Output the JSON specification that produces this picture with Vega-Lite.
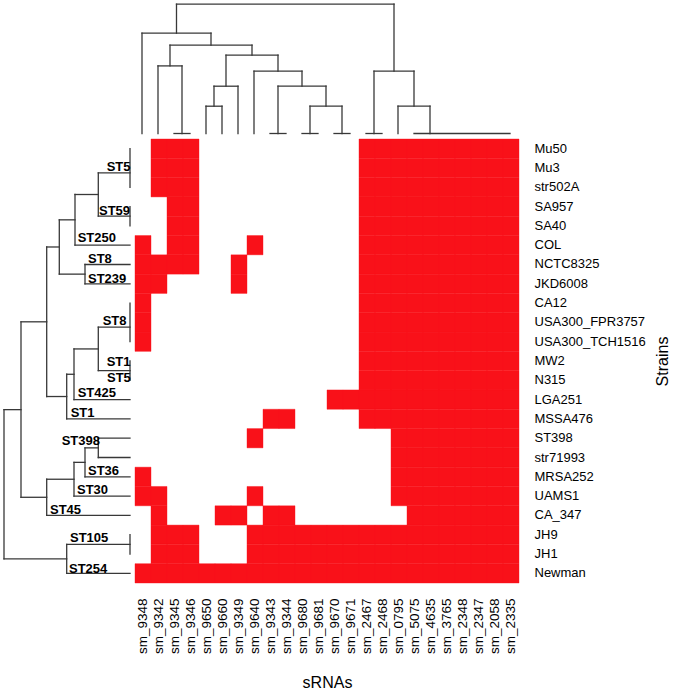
{
 "$schema": "https://vega.github.io/schema/vega-lite/v6.json",
 "padding": 0,
 "spacing": 0,
 "background": "white",
 "config": {"view": {"stroke": null}, "font": "Liberation Sans", "concat": {"spacing": 0}},
 "datasets": {
  "topTree": [
   {"x":2.156,"x2":15.75,"h":12.93,"h2":12.93},
   {"x":0,"x2":4.3125,"h":10.03,"h2":10.03},
   {"x":1.75,"x2":6.875,"h":8.83,"h2":8.83},
   {"x":1,"x2":2.5,"h":6.76,"h2":6.76},
   {"x":2,"x2":3,"h":0,"h2":0},
   {"x":5.25,"x2":8.5,"h":7.83,"h2":7.83},
   {"x":4.5,"x2":6,"h":4.73,"h2":4.73},
   {"x":4,"x2":5,"h":2.73,"h2":2.73},
   {"x":7,"x2":10,"h":6.23,"h2":6.23},
   {"x":8.5,"x2":11.5,"h":4.73,"h2":4.73},
   {"x":8,"x2":9,"h":0,"h2":0},
   {"x":10.5,"x2":12.5,"h":2.73,"h2":2.73},
   {"x":10,"x2":11,"h":0,"h2":0},
   {"x":12,"x2":13,"h":0,"h2":0},
   {"x":14.5,"x2":17,"h":6.23,"h2":6.23},
   {"x":14,"x2":15,"h":0,"h2":0},
   {"x":16,"x2":18,"h":2.73,"h2":2.73},
   {"x":17,"x2":23,"h":0,"h2":0},
   {"x":2.156,"x2":2.156,"h":10.03,"h2":12.93},
   {"x":15.75,"x2":15.75,"h":6.23,"h2":12.93},
   {"x":0,"x2":0,"h":0,"h2":10.03},
   {"x":4.3125,"x2":4.3125,"h":8.83,"h2":10.03},
   {"x":1.75,"x2":1.75,"h":6.76,"h2":8.83},
   {"x":6.875,"x2":6.875,"h":7.83,"h2":8.83},
   {"x":1,"x2":1,"h":0,"h2":6.76},
   {"x":2.5,"x2":2.5,"h":0,"h2":6.76},
   {"x":5.25,"x2":5.25,"h":4.73,"h2":7.83},
   {"x":8.5,"x2":8.5,"h":6.23,"h2":7.83},
   {"x":4.5,"x2":4.5,"h":2.73,"h2":4.73},
   {"x":6,"x2":6,"h":0,"h2":4.73},
   {"x":4,"x2":4,"h":0,"h2":2.73},
   {"x":5,"x2":5,"h":0,"h2":2.73},
   {"x":7,"x2":7,"h":0,"h2":6.23},
   {"x":10,"x2":10,"h":4.73,"h2":6.23},
   {"x":8.5,"x2":8.5,"h":0,"h2":4.73},
   {"x":11.5,"x2":11.5,"h":2.73,"h2":4.73},
   {"x":10.5,"x2":10.5,"h":0,"h2":2.73},
   {"x":12.5,"x2":12.5,"h":0,"h2":2.73},
   {"x":14.5,"x2":14.5,"h":0,"h2":6.23},
   {"x":17,"x2":17,"h":2.73,"h2":6.23},
   {"x":16,"x2":16,"h":0,"h2":2.73},
   {"x":18,"x2":18,"h":0,"h2":2.73}
  ],
  "leftTree": [
   {"r":13.52,"r2":21.25,"h":12.6,"h2":12.6},
   {"r":8.97,"r2":18.06,"h":10.9,"h2":10.9},
   {"r":5.094,"r2":12.84,"h":8.33,"h2":8.33},
   {"r":3.6875,"r2":6.5,"h":7.07,"h2":7.07},
   {"r":2.375,"r2":5,"h":5.5,"h2":5.5},
   {"r":1.25,"r2":3.5,"h":3.17,"h2":3.17},
   {"r":0,"r2":2,"h":0,"h2":0},
   {"r":3,"r2":4,"h":0,"h2":0},
   {"r":6,"r2":7,"h":4.5,"h2":4.5},
   {"r":11.6875,"r2":14,"h":6.33,"h2":6.33},
   {"r":10.375,"r2":13,"h":5.6,"h2":5.6},
   {"r":9.25,"r2":11.5,"h":3.17,"h2":3.17},
   {"r":8,"r2":10,"h":0,"h2":0},
   {"r":11,"r2":12,"h":0,"h2":0},
   {"r":17.125,"r2":19,"h":8.33,"h2":8.33},
   {"r":16.25,"r2":18,"h":5.6,"h2":5.6},
   {"r":15.5,"r2":17,"h":4.5,"h2":4.5},
   {"r":15,"r2":16,"h":3.17,"h2":3.17},
   {"r":20.5,"r2":22,"h":6.33,"h2":6.33},
   {"r":20,"r2":21,"h":0,"h2":0},
   {"r":13.52,"r2":13.52,"h":10.9,"h2":12.6},
   {"r":21.25,"r2":21.25,"h":6.33,"h2":12.6},
   {"r":8.97,"r2":8.97,"h":8.33,"h2":10.9},
   {"r":18.06,"r2":18.06,"h":8.33,"h2":10.9},
   {"r":5.094,"r2":5.094,"h":7.07,"h2":8.33},
   {"r":12.84,"r2":12.84,"h":6.33,"h2":8.33},
   {"r":3.6875,"r2":3.6875,"h":5.5,"h2":7.07},
   {"r":6.5,"r2":6.5,"h":4.5,"h2":7.07},
   {"r":2.375,"r2":2.375,"h":3.17,"h2":5.5},
   {"r":5,"r2":5,"h":0,"h2":5.5},
   {"r":1.25,"r2":1.25,"h":0,"h2":3.17},
   {"r":3.5,"r2":3.5,"h":0,"h2":3.17},
   {"r":6,"r2":6,"h":0,"h2":4.5},
   {"r":7,"r2":7,"h":0,"h2":4.5},
   {"r":11.6875,"r2":11.6875,"h":5.6,"h2":6.33},
   {"r":14,"r2":14,"h":0,"h2":6.33},
   {"r":10.375,"r2":10.375,"h":3.17,"h2":5.6},
   {"r":13,"r2":13,"h":0,"h2":5.6},
   {"r":9.25,"r2":9.25,"h":0,"h2":3.17},
   {"r":11.5,"r2":11.5,"h":0,"h2":3.17},
   {"r":17.125,"r2":17.125,"h":5.6,"h2":8.33},
   {"r":19,"r2":19,"h":0,"h2":8.33},
   {"r":16.25,"r2":16.25,"h":4.5,"h2":5.6},
   {"r":18,"r2":18,"h":0,"h2":5.6},
   {"r":15.5,"r2":15.5,"h":3.17,"h2":4.5},
   {"r":17,"r2":17,"h":0,"h2":4.5},
   {"r":15,"r2":15,"h":0,"h2":3.17},
   {"r":16,"r2":16,"h":0,"h2":3.17},
   {"r":20.5,"r2":20.5,"h":0,"h2":6.33},
   {"r":22,"r2":22,"h":0,"h2":6.33}
  ],
  "stLabels": [
   {"label":"ST5","r":1.158,"h":2.33},
   {"label":"ST59","r":3.438,"h":3.1},
   {"label":"ST250","r":4.837,"h":5.23},
   {"label":"ST8","r":5.925,"h":4.2},
   {"label":"ST239","r":6.961,"h":4.2},
   {"label":"ST8","r":9.137,"h":2.73},
   {"label":"ST1","r":11.262,"h":2.33},
   {"label":"ST5","r":12.075,"h":2.3},
   {"label":"ST425","r":12.868,"h":5.23},
   {"label":"ST1","r":13.904,"h":5.93},
   {"label":"ST398","r":15.355,"h":6.83},
   {"label":"ST36","r":16.909,"h":4.2},
   {"label":"ST30","r":17.894,"h":5.3},
   {"label":"ST45","r":18.93,"h":8.0},
   {"label":"ST105","r":20.381,"h":6.0},
   {"label":"ST254","r":21.97,"h":6.1}
  ],
  "cells": [
   {"strain":"Mu50","srna":"sm_9342"},{"strain":"Mu50","srna":"sm_9345"},{"strain":"Mu50","srna":"sm_9346"},
   {"strain":"Mu50","srna":"sm_2467"},{"strain":"Mu50","srna":"sm_2468"},{"strain":"Mu50","srna":"sm_0795"},{"strain":"Mu50","srna":"sm_5075"},{"strain":"Mu50","srna":"sm_4635"},{"strain":"Mu50","srna":"sm_3765"},{"strain":"Mu50","srna":"sm_2348"},{"strain":"Mu50","srna":"sm_2347"},{"strain":"Mu50","srna":"sm_2058"},{"strain":"Mu50","srna":"sm_2335"},
   {"strain":"Mu3","srna":"sm_9342"},{"strain":"Mu3","srna":"sm_9345"},{"strain":"Mu3","srna":"sm_9346"},
   {"strain":"Mu3","srna":"sm_2467"},{"strain":"Mu3","srna":"sm_2468"},{"strain":"Mu3","srna":"sm_0795"},{"strain":"Mu3","srna":"sm_5075"},{"strain":"Mu3","srna":"sm_4635"},{"strain":"Mu3","srna":"sm_3765"},{"strain":"Mu3","srna":"sm_2348"},{"strain":"Mu3","srna":"sm_2347"},{"strain":"Mu3","srna":"sm_2058"},{"strain":"Mu3","srna":"sm_2335"},
   {"strain":"str502A","srna":"sm_9342"},{"strain":"str502A","srna":"sm_9345"},{"strain":"str502A","srna":"sm_9346"},
   {"strain":"str502A","srna":"sm_2467"},{"strain":"str502A","srna":"sm_2468"},{"strain":"str502A","srna":"sm_0795"},{"strain":"str502A","srna":"sm_5075"},{"strain":"str502A","srna":"sm_4635"},{"strain":"str502A","srna":"sm_3765"},{"strain":"str502A","srna":"sm_2348"},{"strain":"str502A","srna":"sm_2347"},{"strain":"str502A","srna":"sm_2058"},{"strain":"str502A","srna":"sm_2335"},
   {"strain":"SA957","srna":"sm_9345"},{"strain":"SA957","srna":"sm_9346"},
   {"strain":"SA957","srna":"sm_2467"},{"strain":"SA957","srna":"sm_2468"},{"strain":"SA957","srna":"sm_0795"},{"strain":"SA957","srna":"sm_5075"},{"strain":"SA957","srna":"sm_4635"},{"strain":"SA957","srna":"sm_3765"},{"strain":"SA957","srna":"sm_2348"},{"strain":"SA957","srna":"sm_2347"},{"strain":"SA957","srna":"sm_2058"},{"strain":"SA957","srna":"sm_2335"},
   {"strain":"SA40","srna":"sm_9345"},{"strain":"SA40","srna":"sm_9346"},
   {"strain":"SA40","srna":"sm_2467"},{"strain":"SA40","srna":"sm_2468"},{"strain":"SA40","srna":"sm_0795"},{"strain":"SA40","srna":"sm_5075"},{"strain":"SA40","srna":"sm_4635"},{"strain":"SA40","srna":"sm_3765"},{"strain":"SA40","srna":"sm_2348"},{"strain":"SA40","srna":"sm_2347"},{"strain":"SA40","srna":"sm_2058"},{"strain":"SA40","srna":"sm_2335"},
   {"strain":"COL","srna":"sm_9348"},{"strain":"COL","srna":"sm_9345"},{"strain":"COL","srna":"sm_9346"},{"strain":"COL","srna":"sm_9640"},
   {"strain":"COL","srna":"sm_2467"},{"strain":"COL","srna":"sm_2468"},{"strain":"COL","srna":"sm_0795"},{"strain":"COL","srna":"sm_5075"},{"strain":"COL","srna":"sm_4635"},{"strain":"COL","srna":"sm_3765"},{"strain":"COL","srna":"sm_2348"},{"strain":"COL","srna":"sm_2347"},{"strain":"COL","srna":"sm_2058"},{"strain":"COL","srna":"sm_2335"},
   {"strain":"NCTC8325","srna":"sm_9348"},{"strain":"NCTC8325","srna":"sm_9342"},{"strain":"NCTC8325","srna":"sm_9345"},{"strain":"NCTC8325","srna":"sm_9346"},{"strain":"NCTC8325","srna":"sm_9349"},
   {"strain":"NCTC8325","srna":"sm_2467"},{"strain":"NCTC8325","srna":"sm_2468"},{"strain":"NCTC8325","srna":"sm_0795"},{"strain":"NCTC8325","srna":"sm_5075"},{"strain":"NCTC8325","srna":"sm_4635"},{"strain":"NCTC8325","srna":"sm_3765"},{"strain":"NCTC8325","srna":"sm_2348"},{"strain":"NCTC8325","srna":"sm_2347"},{"strain":"NCTC8325","srna":"sm_2058"},{"strain":"NCTC8325","srna":"sm_2335"},
   {"strain":"JKD6008","srna":"sm_9348"},{"strain":"JKD6008","srna":"sm_9342"},{"strain":"JKD6008","srna":"sm_9349"},
   {"strain":"JKD6008","srna":"sm_2467"},{"strain":"JKD6008","srna":"sm_2468"},{"strain":"JKD6008","srna":"sm_0795"},{"strain":"JKD6008","srna":"sm_5075"},{"strain":"JKD6008","srna":"sm_4635"},{"strain":"JKD6008","srna":"sm_3765"},{"strain":"JKD6008","srna":"sm_2348"},{"strain":"JKD6008","srna":"sm_2347"},{"strain":"JKD6008","srna":"sm_2058"},{"strain":"JKD6008","srna":"sm_2335"},
   {"strain":"CA12","srna":"sm_9348"},
   {"strain":"CA12","srna":"sm_2467"},{"strain":"CA12","srna":"sm_2468"},{"strain":"CA12","srna":"sm_0795"},{"strain":"CA12","srna":"sm_5075"},{"strain":"CA12","srna":"sm_4635"},{"strain":"CA12","srna":"sm_3765"},{"strain":"CA12","srna":"sm_2348"},{"strain":"CA12","srna":"sm_2347"},{"strain":"CA12","srna":"sm_2058"},{"strain":"CA12","srna":"sm_2335"},
   {"strain":"USA300_FPR3757","srna":"sm_9348"},
   {"strain":"USA300_FPR3757","srna":"sm_2467"},{"strain":"USA300_FPR3757","srna":"sm_2468"},{"strain":"USA300_FPR3757","srna":"sm_0795"},{"strain":"USA300_FPR3757","srna":"sm_5075"},{"strain":"USA300_FPR3757","srna":"sm_4635"},{"strain":"USA300_FPR3757","srna":"sm_3765"},{"strain":"USA300_FPR3757","srna":"sm_2348"},{"strain":"USA300_FPR3757","srna":"sm_2347"},{"strain":"USA300_FPR3757","srna":"sm_2058"},{"strain":"USA300_FPR3757","srna":"sm_2335"},
   {"strain":"USA300_TCH1516","srna":"sm_9348"},
   {"strain":"USA300_TCH1516","srna":"sm_2467"},{"strain":"USA300_TCH1516","srna":"sm_2468"},{"strain":"USA300_TCH1516","srna":"sm_0795"},{"strain":"USA300_TCH1516","srna":"sm_5075"},{"strain":"USA300_TCH1516","srna":"sm_4635"},{"strain":"USA300_TCH1516","srna":"sm_3765"},{"strain":"USA300_TCH1516","srna":"sm_2348"},{"strain":"USA300_TCH1516","srna":"sm_2347"},{"strain":"USA300_TCH1516","srna":"sm_2058"},{"strain":"USA300_TCH1516","srna":"sm_2335"},
   {"strain":"MW2","srna":"sm_2467"},{"strain":"MW2","srna":"sm_2468"},{"strain":"MW2","srna":"sm_0795"},{"strain":"MW2","srna":"sm_5075"},{"strain":"MW2","srna":"sm_4635"},{"strain":"MW2","srna":"sm_3765"},{"strain":"MW2","srna":"sm_2348"},{"strain":"MW2","srna":"sm_2347"},{"strain":"MW2","srna":"sm_2058"},{"strain":"MW2","srna":"sm_2335"},
   {"strain":"N315","srna":"sm_2467"},{"strain":"N315","srna":"sm_2468"},{"strain":"N315","srna":"sm_0795"},{"strain":"N315","srna":"sm_5075"},{"strain":"N315","srna":"sm_4635"},{"strain":"N315","srna":"sm_3765"},{"strain":"N315","srna":"sm_2348"},{"strain":"N315","srna":"sm_2347"},{"strain":"N315","srna":"sm_2058"},{"strain":"N315","srna":"sm_2335"},
   {"strain":"LGA251","srna":"sm_9670"},{"strain":"LGA251","srna":"sm_9671"},
   {"strain":"LGA251","srna":"sm_2467"},{"strain":"LGA251","srna":"sm_2468"},{"strain":"LGA251","srna":"sm_0795"},{"strain":"LGA251","srna":"sm_5075"},{"strain":"LGA251","srna":"sm_4635"},{"strain":"LGA251","srna":"sm_3765"},{"strain":"LGA251","srna":"sm_2348"},{"strain":"LGA251","srna":"sm_2347"},{"strain":"LGA251","srna":"sm_2058"},{"strain":"LGA251","srna":"sm_2335"},
   {"strain":"MSSA476","srna":"sm_9343"},{"strain":"MSSA476","srna":"sm_9344"},
   {"strain":"MSSA476","srna":"sm_2467"},{"strain":"MSSA476","srna":"sm_2468"},{"strain":"MSSA476","srna":"sm_0795"},{"strain":"MSSA476","srna":"sm_5075"},{"strain":"MSSA476","srna":"sm_4635"},{"strain":"MSSA476","srna":"sm_3765"},{"strain":"MSSA476","srna":"sm_2348"},{"strain":"MSSA476","srna":"sm_2347"},{"strain":"MSSA476","srna":"sm_2058"},{"strain":"MSSA476","srna":"sm_2335"},
   {"strain":"ST398","srna":"sm_9640"},
   {"strain":"ST398","srna":"sm_0795"},{"strain":"ST398","srna":"sm_5075"},{"strain":"ST398","srna":"sm_4635"},{"strain":"ST398","srna":"sm_3765"},{"strain":"ST398","srna":"sm_2348"},{"strain":"ST398","srna":"sm_2347"},{"strain":"ST398","srna":"sm_2058"},{"strain":"ST398","srna":"sm_2335"},
   {"strain":"str71993","srna":"sm_0795"},{"strain":"str71993","srna":"sm_5075"},{"strain":"str71993","srna":"sm_4635"},{"strain":"str71993","srna":"sm_3765"},{"strain":"str71993","srna":"sm_2348"},{"strain":"str71993","srna":"sm_2347"},{"strain":"str71993","srna":"sm_2058"},{"strain":"str71993","srna":"sm_2335"},
   {"strain":"MRSA252","srna":"sm_9348"},
   {"strain":"MRSA252","srna":"sm_0795"},{"strain":"MRSA252","srna":"sm_5075"},{"strain":"MRSA252","srna":"sm_4635"},{"strain":"MRSA252","srna":"sm_3765"},{"strain":"MRSA252","srna":"sm_2348"},{"strain":"MRSA252","srna":"sm_2347"},{"strain":"MRSA252","srna":"sm_2058"},{"strain":"MRSA252","srna":"sm_2335"},
   {"strain":"UAMS1","srna":"sm_9348"},{"strain":"UAMS1","srna":"sm_9342"},{"strain":"UAMS1","srna":"sm_9640"},
   {"strain":"UAMS1","srna":"sm_0795"},{"strain":"UAMS1","srna":"sm_5075"},{"strain":"UAMS1","srna":"sm_4635"},{"strain":"UAMS1","srna":"sm_3765"},{"strain":"UAMS1","srna":"sm_2348"},{"strain":"UAMS1","srna":"sm_2347"},{"strain":"UAMS1","srna":"sm_2058"},{"strain":"UAMS1","srna":"sm_2335"},
   {"strain":"CA_347","srna":"sm_9342"},{"strain":"CA_347","srna":"sm_9660"},{"strain":"CA_347","srna":"sm_9349"},{"strain":"CA_347","srna":"sm_9343"},{"strain":"CA_347","srna":"sm_9344"},
   {"strain":"CA_347","srna":"sm_5075"},{"strain":"CA_347","srna":"sm_4635"},{"strain":"CA_347","srna":"sm_3765"},{"strain":"CA_347","srna":"sm_2348"},{"strain":"CA_347","srna":"sm_2347"},{"strain":"CA_347","srna":"sm_2058"},{"strain":"CA_347","srna":"sm_2335"},
   {"strain":"JH9","srna":"sm_9342"},{"strain":"JH9","srna":"sm_9345"},{"strain":"JH9","srna":"sm_9346"},{"strain":"JH9","srna":"sm_9640"},{"strain":"JH9","srna":"sm_9343"},{"strain":"JH9","srna":"sm_9344"},{"strain":"JH9","srna":"sm_9680"},{"strain":"JH9","srna":"sm_9681"},{"strain":"JH9","srna":"sm_9670"},{"strain":"JH9","srna":"sm_9671"},
   {"strain":"JH9","srna":"sm_2467"},{"strain":"JH9","srna":"sm_2468"},{"strain":"JH9","srna":"sm_0795"},{"strain":"JH9","srna":"sm_5075"},{"strain":"JH9","srna":"sm_4635"},{"strain":"JH9","srna":"sm_3765"},{"strain":"JH9","srna":"sm_2348"},{"strain":"JH9","srna":"sm_2347"},{"strain":"JH9","srna":"sm_2058"},{"strain":"JH9","srna":"sm_2335"},
   {"strain":"JH1","srna":"sm_9342"},{"strain":"JH1","srna":"sm_9345"},{"strain":"JH1","srna":"sm_9346"},{"strain":"JH1","srna":"sm_9640"},{"strain":"JH1","srna":"sm_9343"},{"strain":"JH1","srna":"sm_9344"},{"strain":"JH1","srna":"sm_9680"},{"strain":"JH1","srna":"sm_9681"},{"strain":"JH1","srna":"sm_9670"},{"strain":"JH1","srna":"sm_9671"},
   {"strain":"JH1","srna":"sm_2467"},{"strain":"JH1","srna":"sm_2468"},{"strain":"JH1","srna":"sm_0795"},{"strain":"JH1","srna":"sm_5075"},{"strain":"JH1","srna":"sm_4635"},{"strain":"JH1","srna":"sm_3765"},{"strain":"JH1","srna":"sm_2348"},{"strain":"JH1","srna":"sm_2347"},{"strain":"JH1","srna":"sm_2058"},{"strain":"JH1","srna":"sm_2335"},
   {"strain":"Newman","srna":"sm_9348"},{"strain":"Newman","srna":"sm_9342"},{"strain":"Newman","srna":"sm_9345"},{"strain":"Newman","srna":"sm_9346"},{"strain":"Newman","srna":"sm_9650"},{"strain":"Newman","srna":"sm_9660"},{"strain":"Newman","srna":"sm_9349"},{"strain":"Newman","srna":"sm_9640"},{"strain":"Newman","srna":"sm_9343"},{"strain":"Newman","srna":"sm_9344"},{"strain":"Newman","srna":"sm_9680"},{"strain":"Newman","srna":"sm_9681"},{"strain":"Newman","srna":"sm_9670"},{"strain":"Newman","srna":"sm_9671"},
   {"strain":"Newman","srna":"sm_2467"},{"strain":"Newman","srna":"sm_2468"},{"strain":"Newman","srna":"sm_0795"},{"strain":"Newman","srna":"sm_5075"},{"strain":"Newman","srna":"sm_4635"},{"strain":"Newman","srna":"sm_3765"},{"strain":"Newman","srna":"sm_2348"},{"strain":"Newman","srna":"sm_2347"},{"strain":"Newman","srna":"sm_2058"},{"strain":"Newman","srna":"sm_2335"}
  ]
 },
 "vconcat": [
  {
   "width": 518,
   "height": 138,
   "data": {"name": "topTree"},
   "mark": {"type": "rule", "color": "#383838", "strokeWidth": 1.3, "strokeCap": "square"},
   "encoding": {
    "x": {"field": "x", "type": "quantitative", "scale": {"domain": [-8.875, 23.5], "nice": false, "zero": false}, "axis": null},
    "x2": {"field": "x2"},
    "y": {"field": "h", "type": "quantitative", "scale": {"domain": [-0.45, 13.35], "nice": false, "zero": false}, "axis": null},
    "y2": {"field": "h2"}
   }
  },
  {
   "spacing": 0,
   "hconcat": [
    {
     "width": 134,
     "height": 444,
     "layer": [
      {
       "data": {"name": "leftTree"},
       "mark": {"type": "rule", "color": "#383838", "strokeWidth": 1.3, "strokeCap": "square"},
       "encoding": {
        "x": {"field": "h", "type": "quantitative", "scale": {"domain": [-0.4, 13], "reverse": true, "nice": false, "zero": false}, "axis": null},
        "x2": {"field": "h2"},
        "y": {"field": "r", "type": "quantitative", "scale": {"domain": [-0.5, 22.5], "reverse": true, "nice": false, "zero": false}, "axis": null},
        "y2": {"field": "r2"}
       }
      },
      {
       "data": {"name": "stLabels"},
       "mark": {"type": "text", "align": "left", "baseline": "alphabetic", "fontWeight": "bold", "fontSize": 13, "font": "Liberation Sans", "color": "black"},
       "encoding": {
        "x": {"field": "h", "type": "quantitative", "scale": {"domain": [-0.4, 13], "reverse": true, "nice": false, "zero": false}, "axis": null},
        "y": {"field": "r", "type": "quantitative", "scale": {"domain": [-0.5, 22.5], "reverse": true, "nice": false, "zero": false}, "axis": null},
        "text": {"field": "label"}
       }
      }
     ]
    },
    {
     "width": 384,
     "height": 444,
     "data": {"name": "cells"},
     "mark": {"type": "rect", "color": "#f91119", "stroke": "#f91119", "strokeWidth": 0.4},
     "encoding": {
      "x": {
       "field": "srna", "type": "nominal",
       "scale": {"domain": ["sm_9348","sm_9342","sm_9345","sm_9346","sm_9650","sm_9660","sm_9349","sm_9640","sm_9343","sm_9344","sm_9680","sm_9681","sm_9670","sm_9671","sm_2467","sm_2468","sm_0795","sm_5075","sm_4635","sm_3765","sm_2348","sm_2347","sm_2058","sm_2335"], "paddingInner": 0, "paddingOuter": 0},
       "axis": {"orient": "bottom", "labelAngle": -90, "ticks": false, "domain": false, "labelPadding": 15, "labelFontSize": 13.5, "labelColor": "black", "labelFont": "Liberation Sans", "title": "sRNAs", "titleFontSize": 16, "titleFontWeight": "normal", "titleColor": "black", "titleFont": "Liberation Sans", "titlePadding": 21}
      },
      "y": {
       "field": "strain", "type": "nominal",
       "scale": {"domain": ["Mu50","Mu3","str502A","SA957","SA40","COL","NCTC8325","JKD6008","CA12","USA300_FPR3757","USA300_TCH1516","MW2","N315","LGA251","MSSA476","ST398","str71993","MRSA252","UAMS1","CA_347","JH9","JH1","Newman"], "paddingInner": 0, "paddingOuter": 0},
       "axis": {"orient": "right", "ticks": false, "domain": false, "labelPadding": 15, "labelFontSize": 13, "labelColor": "black", "labelFont": "Liberation Sans", "title": "Strains", "titleFontSize": 16, "titleFontWeight": "normal", "titleColor": "black", "titleFont": "Liberation Sans", "titleAngle": 270, "titleBaseline": "top", "titlePadding": 9}
      }
     }
    }
   ]
  }
 ]
}
